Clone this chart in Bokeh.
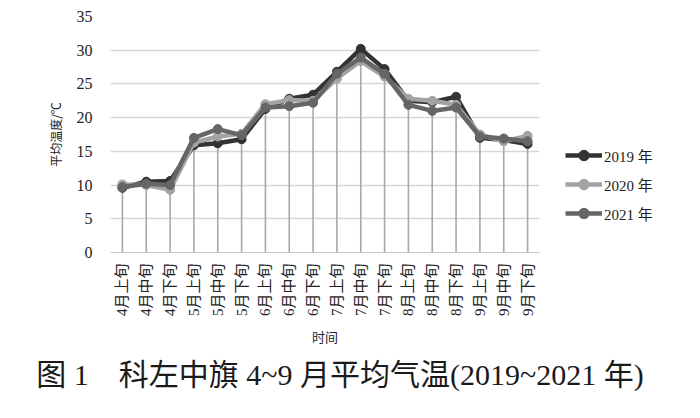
import math
from bokeh.plotting import figure
from bokeh.models import (FactorRange, Range1d, Legend, LegendItem, FixedTicker,
                          CategoricalAxis)
from bokeh.embed import file_html
from bokeh.resources import INLINE

categories = ["4月上旬", "4月中旬", "4月下旬", "5月上旬", "5月中旬", "5月下旬",
              "6月上旬", "6月中旬", "6月下旬", "7月上旬", "7月中旬", "7月下旬",
              "8月上旬", "8月中旬", "8月下旬", "9月上旬", "9月中旬", "9月下旬"]
y2019 = [9.6, 10.5, 10.6, 15.9, 16.2, 16.8, 21.3, 22.8, 23.4, 26.8, 30.2, 27.2,
         22.5, 22.3, 23.1, 17.0, 16.7, 16.1]
y2020 = [10.1, 10.0, 9.3, 16.3, 17.2, 17.6, 22.0, 22.6, 22.5, 25.8, 28.4, 26.1,
         22.8, 22.5, 21.9, 17.5, 16.5, 17.3]
y2021 = [9.7, 10.2, 10.0, 17.0, 18.3, 17.4, 21.5, 21.7, 22.2, 26.5, 28.9, 26.5,
         21.9, 21.0, 21.5, 17.2, 16.9, 16.5]
series_names = ["2019 年", "2020 年", "2021 年"]
y_ticks = [0, 5, 10, 15, 20, 25, 30, 35]
caption_text = "\u3000图 1　科左中旗 4~9 月平均气温(2019~2021 年)"

SERIF = "Liberation Serif, Noto Sans CJK SC"
CJK = "Noto Sans CJK SC"

p = figure(frame_width=429, frame_height=236, x_range=FactorRange(*categories),
           y_range=Range1d(0, 35), output_backend="svg", toolbar_location=None,
           min_border_left=110, min_border_right=145, min_border_top=16,
           min_border_bottom=150)
p.x_range.range_padding = 0
p.extra_x_ranges = {"cap": FactorRange(factors=[caption_text])}
p.outline_line_color = None
p.background_fill_color = "white"
p.xgrid.grid_line_color = None
p.ygrid.grid_line_color = "#d6d6d6"
p.ygrid.grid_line_width = 1.5

p.yaxis.ticker = FixedTicker(ticks=y_ticks)
p.yaxis.axis_line_color = None
p.yaxis.major_tick_line_color = None
p.yaxis.minor_tick_line_color = None
p.yaxis.major_label_text_font = SERIF
p.yaxis.major_label_text_font_size = "16px"
p.yaxis.major_label_text_color = "#222222"
p.yaxis.major_label_standoff = 12
p.yaxis.axis_label = "平均温度/℃"
p.yaxis.axis_label_text_font = CJK
p.yaxis.axis_label_text_font_size = "12px"
p.yaxis.axis_label_text_font_style = "normal"
p.yaxis.axis_label_text_color = "#222222"
p.yaxis.axis_label_standoff = 10

p.xaxis.axis_line_color = "#c8c8c8"
p.xaxis.major_tick_line_color = None
p.xaxis.minor_tick_line_color = None
p.xaxis.major_label_orientation = math.pi / 2
p.xaxis.major_label_text_font = SERIF
p.xaxis.major_label_text_font_size = "15px"
p.xaxis.major_label_text_color = "#222222"
p.xaxis.major_label_standoff = 5
p.xaxis.axis_label = "时间"
p.xaxis.axis_label_text_font = CJK
p.xaxis.axis_label_text_font_size = "13px"
p.xaxis.axis_label_text_font_style = "normal"
p.xaxis.axis_label_text_color = "#222222"
p.xaxis.axis_label_standoff = 8

# caption drawn as the single label of a bare extra categorical axis
cap_axis = CategoricalAxis(x_range_name="cap", axis_line_color=None,
                           major_tick_line_color=None, minor_tick_line_color=None,
                           major_tick_out=0, major_tick_in=0,
                           major_label_standoff=8,
                           major_label_text_font=SERIF,
                           major_label_text_font_size="30px",
                           major_label_text_color="#1a1a1a")
p.add_layout(cap_axis, "below")

# drop lines from axis to highest point
tops = [max(a, b, c) for a, b, c in zip(y2019, y2020, y2021)]
zeros = [0] * len(categories)
p.segment(x0=categories, y0=zeros, x1=categories, y1=tops,
          line_color="#a8a8a8", line_width=1.6)

colors = ["#333333", "#a3a3a3", "#666666"]
items = []
for name, ys, col in zip(series_names, [y2019, y2020, y2021], colors):
    ln = p.line(categories, ys, line_color=col, line_width=4.5, line_join="round")
    sc = p.scatter(categories, ys, size=9, fill_color=col, line_color=col)
    items.append(LegendItem(label=name, renderers=[ln, sc]))

legend = Legend(items=items, location="bottom_left", orientation="vertical",
                glyph_width=37, glyph_height=26, label_height=26, spacing=3,
                padding=0, margin=26, label_standoff=2,
                label_text_font=SERIF, label_text_font_size="15px",
                label_text_color="#222222", background_fill_alpha=0,
                border_line_color=None)
p.add_layout(legend, "right")

open("out.html", "w").write(file_html(p, INLINE))
